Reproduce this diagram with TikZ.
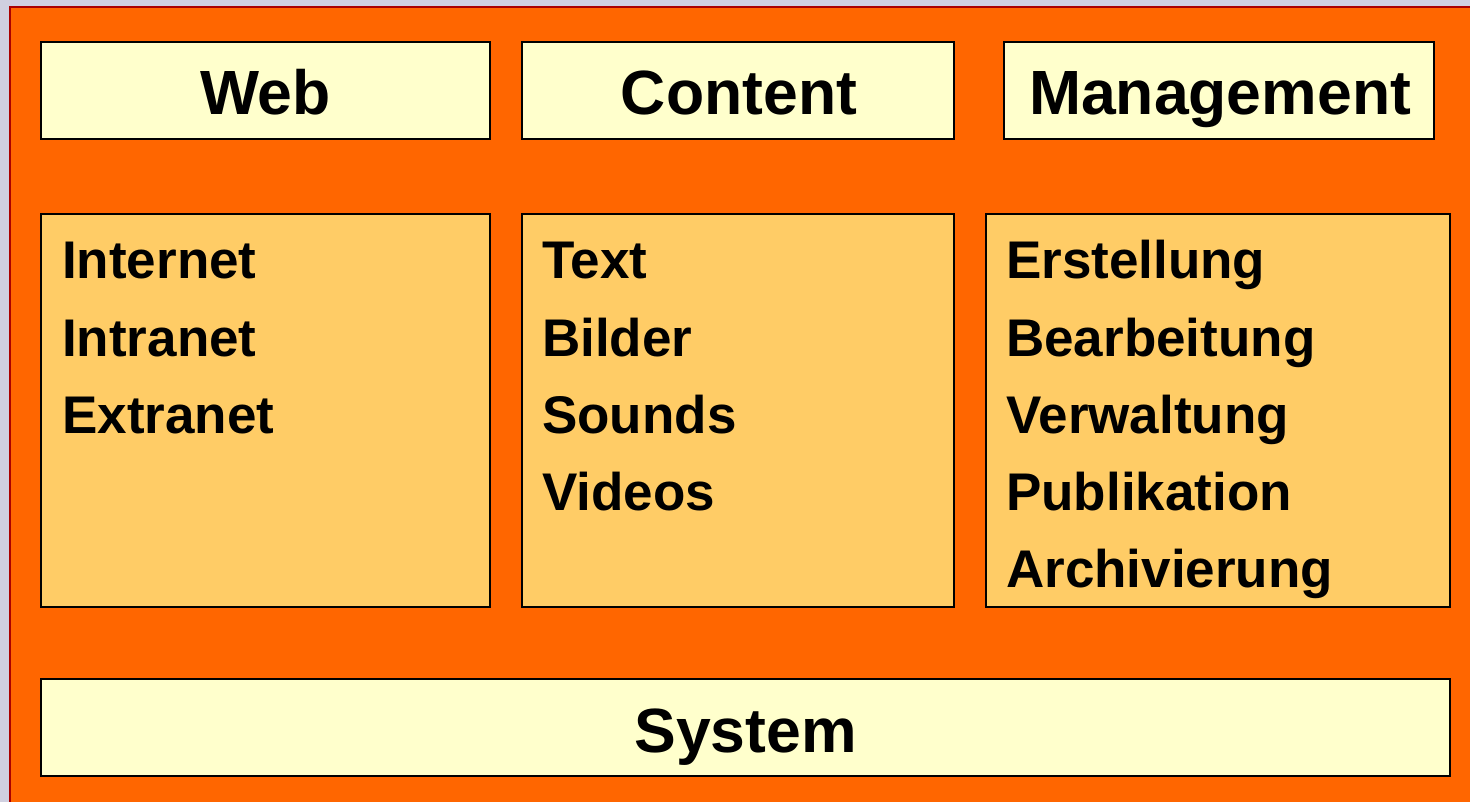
\documentclass[tikz,border=0pt]{standalone}
\usepackage{fontspec}
\setmainfont{Liberation Sans}
\definecolor{bglav}{HTML}{D0D0E0}
\definecolor{orng}{HTML}{FF6600}
\definecolor{pale}{HTML}{FFFFCC}
\definecolor{lightor}{HTML}{FFCC66}
\definecolor{dred}{HTML}{AA0000}
\begin{document}
\begin{tikzpicture}[x=1pt,y=-1pt,
  headbox/.style={draw=black,line width=2.5pt,fill=pale},
  listbox/.style={draw=black,line width=2.5pt,fill=lightor},
  headtxt/.style={font=\fontsize{62.5}{70}\selectfont\bfseries,anchor=base,inner sep=0pt},
  itemtxt/.style={font=\fontsize{53}{60}\selectfont\bfseries,anchor=base west,inner sep=0pt}]
\useasboundingbox (0,0) rectangle (1470,802);
\fill[bglav] (0,0) rectangle (1470,802);
\filldraw[fill=orng,draw=dred,line width=2pt] (10,7) rectangle (1480,812);
% header boxes
\draw[headbox] (41,42) rectangle (490,139);
\draw[headbox] (522,42) rectangle (954,139);
\draw[headbox] (1004,42) rectangle (1434,139);
\node[headtxt] (web) at (265.5,115) {Web};
\node[headtxt] (content) at (739,115) {Content};
\node[headtxt] (mgmt) at (1220,115) {Management};
% list boxes
\draw[listbox] (41,214) rectangle (490,607);
\draw[listbox] (522,214) rectangle (954,607);
\draw[listbox] (986,214) rectangle (1450,607);
\node[itemtxt] (internet) at (62,279) {Internet};
\node[itemtxt] (intranet) at (62,356) {Intranet};
\node[itemtxt] (extranet) at (62,433) {Extranet};
\node[itemtxt] (text) at (542,279) {Text};
\node[itemtxt] (bilder) at (542,356) {Bilder};
\node[itemtxt] (sounds) at (542,433) {Sounds};
\node[itemtxt] (videos) at (542,510) {Videos};
\node[itemtxt] (erst) at (1006,279) {Erstellung};
\node[itemtxt] (bearb) at (1006,356) {Bearbeitung};
\node[itemtxt] (verw) at (1006,433) {Verwaltung};
\node[itemtxt] (publ) at (1006,510) {Publikation};
\node[itemtxt] (arch) at (1006,587) {Archivierung};
% system
\draw[headbox] (41,679) rectangle (1450,776);
\node[headtxt] (system) at (745.5,752) {System};
\end{tikzpicture}
\end{document}
